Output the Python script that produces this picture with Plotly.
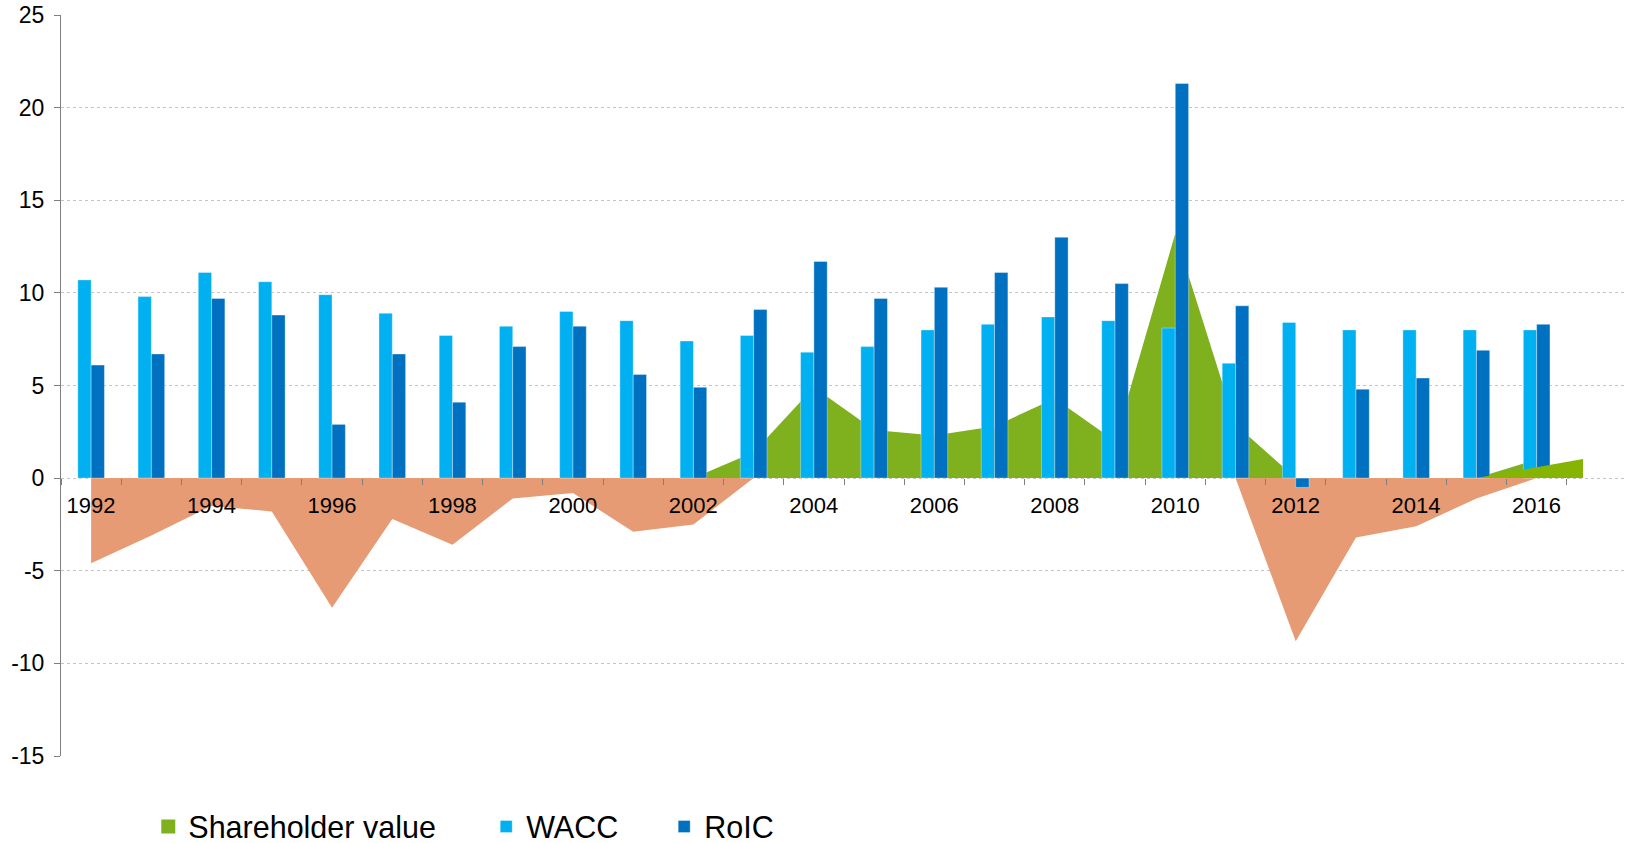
import plotly.graph_objects as go

# ---- data -------------------------------------------------------------
years = list(range(1992, 2017))
wacc = [10.7, 9.8, 11.1, 10.6, 9.9, 8.9, 7.7, 8.2, 9.0, 8.5, 7.4, 7.7, 6.8,
        7.1, 8.0, 8.3, 8.7, 8.5, 8.1, 6.2, 8.4, 8.0, 8.0, 8.0, 8.0]
roic = [6.1, 6.7, 9.7, 8.8, 2.9, 6.7, 4.1, 7.1, 8.2, 5.6, 4.9, 9.1, 11.7,
        9.7, 10.3, 11.1, 13.0, 10.5, 21.3, 9.3, -0.5, 4.8, 5.4, 6.9, 8.3]
shareholder_value = [-4.6, -3.1, -1.5, -1.8, -7.0, -2.2, -3.6, -1.1, -0.8,
                     -2.9, -2.5, 1.4, 4.9, 2.6, 2.3, 2.8, 4.3, 2.0, 13.2,
                     2.9, -8.8, -3.2, -2.6, -1.1, 1.0]
# recent shareholder-value wedge drawn in front of the last bars
sv_recent_x = [2015, 2016.77]
sv_recent_y = [0.0, 1.03]

y_ticks = [-15, -10, -5, 0, 5, 10, 15, 20, 25]
x_label_years = years[::2]
x_range = [1991.5, 2017.5]

# ---- styling ----------------------------------------------------------
GREEN = "#7FB11F"
GREEN_LIGHT = "#86B402"
SALMON = "#E69B74"
WACC_BLUE = "#00B0F0"
ROIC_BLUE = "#0070C0"
FONT = "Liberation Sans, Arial, sans-serif"

W, H = 1627, 843
L, T, R, B = 60.7, 15, 0, 86.7
plot_w = W - L - R
plot_h = H - T - B


def px_x(px):
    return (px - L) / plot_w


def px_y(py):
    return (H - B - py) / plot_h


sv_pos = [max(v, 0) for v in shareholder_value]
sv_neg = [min(v, 0) for v in shareholder_value]

# ticks sit on the category boundaries, labels are shifted to the centres
boundaries = [y - 0.5 for y in years] + [years[-1] + 0.5]
boundary_text = [str(int(b + 0.5)) if int(b + 0.5) in x_label_years else ""
                 for b in boundaries]
half_category_px = int(round(plot_w / (x_range[1] - x_range[0]) / 2))
zero_pos = (0 - y_ticks[0]) / (y_ticks[-1] - y_ticks[0])

fig = go.Figure()

# shareholder value: gains in green, losses in salmon
fig.add_trace(go.Scatter(
    x=years, y=sv_pos, mode="lines", fill="tozeroy", fillcolor=GREEN,
    line=dict(width=0, color=GREEN), showlegend=False, hoverinfo="skip",
    zorder=0))
fig.add_trace(go.Scatter(
    x=years, y=sv_neg, mode="lines", fill="tozeroy", fillcolor=SALMON,
    line=dict(width=0, color=SALMON), showlegend=False, hoverinfo="skip",
    zorder=0))

fig.add_trace(go.Bar(
    x=years, y=wacc, name="WACC",
    marker=dict(color=WACC_BLUE, line=dict(color="rgba(255,255,255,0.35)", width=1)),
    legend="legend2", zorder=1))
fig.add_trace(go.Bar(
    x=years, y=roic, name="RoIC",
    marker=dict(color=ROIC_BLUE, line=dict(color="rgba(255,255,255,0.35)", width=1)),
    legend="legend3", zorder=1))

fig.add_trace(go.Scatter(
    x=sv_recent_x, y=sv_recent_y, mode="lines", fill="tozeroy",
    fillcolor=GREEN_LIGHT, line=dict(width=0, color=GREEN_LIGHT),
    showlegend=False, hoverinfo="skip", zorder=2))

# legend swatch for the shareholder value area
fig.add_trace(go.Scatter(
    x=[None], y=[None], mode="markers", name="Shareholder value",
    marker=dict(symbol="square", size=14, color=GREEN), legend="legend"))

legend_common = dict(
    orientation="h", xanchor="left", yanchor="middle", y=px_y(827),
    font=dict(family=FONT, size=30.5, color="#000000"),
    bgcolor="rgba(0,0,0,0)", borderwidth=0)

fig.update_layout(
    width=W, height=H,
    margin=dict(l=L, r=R, t=T, b=B, autoexpand=False),
    paper_bgcolor="white", plot_bgcolor="white",
    barmode="group", bargap=0.558, bargroupgap=0,
    font=dict(family=FONT, color="#000000"),
    legend=dict(x=px_x(148), **legend_common),
    legend2=dict(x=px_x(486), **legend_common),
    legend3=dict(x=px_x(664), **legend_common),
    xaxis=dict(
        range=x_range, anchor="free", position=zero_pos,
        showline=True, linecolor="#000000", linewidth=1.5,
        ticks="outside", tickvals=boundaries, ticktext=boundary_text,
        ticklen=6, tickwidth=1, tickcolor="#7F7F7F",
        ticklabelshift=half_category_px, ticklabelstandoff=2,
        tickfont=dict(family=FONT, size=22, color="#000000"),
        showgrid=False, zeroline=False),
    yaxis=dict(
        range=[y_ticks[0], y_ticks[-1]], tickvals=y_ticks,
        ticktext=[str(v) for v in y_ticks],
        showgrid=True, gridcolor="#C4C4C4", griddash="dot", gridwidth=1,
        showline=True, mirror="all", linecolor="#7F7F7F", linewidth=1,
        ticks="outside", ticklen=6, tickcolor="#7F7F7F", tickwidth=1,
        ticklabelstandoff=5,
        tickfont=dict(family=FONT, size=23, color="#000000"),
        zeroline=False),
)

fig.write_html("out.html")
